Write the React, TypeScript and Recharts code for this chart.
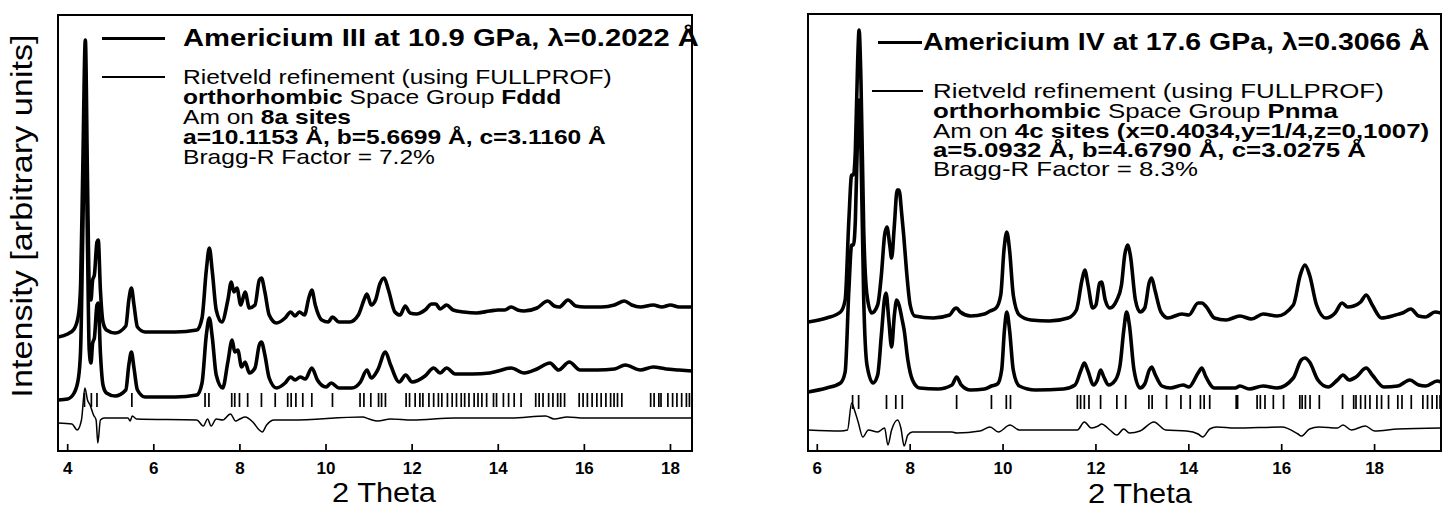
import React from 'react';
import { ComposedChart, Line, XAxis, YAxis, Scatter, ReferenceArea } from 'recharts';

// ---------- Left panel: Americium III (Fddd) ----------
const leftTicks = [4, 6, 8, 10, 12, 14, 16, 18];
const leftDomain: [number, number] = [3.775, 18.5];

const leftObs: [number, number][] = [
  [3.78, 114], [4.0, 117], [4.15, 122], [4.25, 136], [4.3, 166], [4.35, 281], [4.41, 411], [4.46, 271],
  [4.5, 166], [4.54, 151], [4.58, 171], [4.62, 176], [4.68, 209], [4.71, 211], [4.76, 161], [4.82, 129],
  [4.9, 121], [5.1, 118], [5.35, 125], [5.42, 151], [5.48, 163], [5.54, 146], [5.62, 124], [5.8, 119],
  [6.5, 119], [7.0, 121], [7.12, 133], [7.22, 181], [7.29, 203], [7.36, 179], [7.45, 141], [7.58, 129],
  [7.72, 151], [7.8, 169], [7.86, 159], [7.93, 163], [8.02, 146], [8.12, 159], [8.22, 143], [8.35, 146],
  [8.45, 171], [8.5, 173], [8.58, 159], [8.68, 136], [8.85, 128], [9.05, 133], [9.18, 139], [9.28, 135],
  [9.38, 139], [9.5, 136], [9.6, 153], [9.67, 161], [9.75, 146], [9.9, 131], [10.05, 129], [10.15, 134],
  [10.3, 129], [10.55, 129], [10.75, 136], [10.9, 153], [10.95, 157], [11.05, 146], [11.15, 151], [11.25, 167],
  [11.35, 173], [11.45, 161], [11.6, 139], [11.72, 136], [11.84, 145], [11.95, 138], [12.1, 137], [12.3, 141],
  [12.45, 147], [12.55, 147], [12.65, 142], [12.8, 146], [12.95, 141], [13.2, 139], [13.5, 138], [13.8, 140],
  [14.0, 141], [14.15, 141], [14.3, 144], [14.45, 141], [14.6, 140], [14.9, 143], [15.15, 150], [15.3, 145],
  [15.42, 144], [15.62, 151], [15.8, 145], [16.0, 144], [16.4, 144], [16.7, 146], [16.93, 150], [17.1, 146],
  [17.3, 144], [17.6, 146], [17.8, 144], [18.0, 146], [18.2, 144], [18.5, 144],
];

const leftCalc: [number, number][] = [
  [3.78, 51], [4.0, 52], [4.15, 58], [4.25, 73], [4.3, 101], [4.35, 216], [4.41, 346], [4.46, 206],
  [4.5, 101], [4.54, 88], [4.58, 108], [4.62, 113], [4.68, 146], [4.71, 148], [4.76, 98], [4.82, 66],
  [4.9, 58], [5.1, 55], [5.35, 61], [5.42, 86], [5.48, 99], [5.54, 83], [5.62, 61], [5.8, 54],
  [6.5, 54], [7.0, 56], [7.12, 68], [7.22, 116], [7.29, 133], [7.36, 113], [7.45, 76], [7.6, 63],
  [7.72, 89], [7.82, 111], [7.88, 99], [7.95, 101], [8.04, 84], [8.12, 89], [8.22, 78], [8.35, 83],
  [8.45, 106], [8.5, 109], [8.58, 96], [8.68, 73], [8.85, 63], [9.05, 68], [9.18, 74], [9.28, 71],
  [9.4, 74], [9.52, 72], [9.67, 83], [9.8, 71], [10.0, 64], [10.12, 68], [10.3, 63], [10.6, 63],
  [10.8, 69], [10.95, 81], [11.05, 73], [11.2, 81], [11.38, 99], [11.5, 86], [11.7, 69], [11.85, 76],
  [12.0, 69], [12.3, 75], [12.5, 83], [12.65, 78], [12.8, 83], [13.0, 77], [13.4, 77], [13.8, 78],
  [14.0, 80], [14.3, 83], [14.6, 78], [14.9, 82], [15.2, 88], [15.4, 81], [15.65, 89], [15.9, 81],
  [16.3, 81], [16.7, 82], [16.95, 86], [17.3, 81], [17.6, 84], [17.9, 82], [18.2, 81], [18.5, 80],
];

const leftDiff: [number, number][] = [
  [3.78, 28], [4.1, 27], [4.22, 21], [4.32, 31], [4.4, 63], [4.46, 51], [4.52, 46], [4.6, 36],
  [4.66, 31], [4.7, 8], [4.76, 31], [4.85, 33], [5.4, 33], [5.45, 30], [5.5, 35], [5.6, 32],
  [7.0, 31], [7.15, 25], [7.25, 32], [7.33, 25], [7.45, 32], [7.6, 31], [7.78, 37], [7.9, 30],
  [8.0, 32], [8.12, 34], [8.3, 29], [8.45, 21], [8.52, 19], [8.62, 26], [8.8, 31], [9.2, 31],
  [10.85, 34], [11.0, 32], [11.2, 30], [11.5, 32], [12.0, 31], [13.0, 33], [14.3, 33], [15.1, 35],
  [15.3, 32], [15.6, 34], [16.0, 33], [17.0, 33], [18.5, 33],
];

const leftBragg: number[] = [
  4.39, 4.55, 4.68, 5.49, 7.19, 7.28, 7.81, 7.88, 7.99, 8.18, 8.5, 8.82, 9.11, 9.19, 9.3, 9.46, 9.67,
  10.15, 10.79, 10.88, 11.04, 11.22, 11.29, 11.38, 11.86, 11.94, 12.07, 12.18, 12.25, 12.39, 12.5, 12.61,
  12.69, 12.82, 12.93, 13.03, 13.14, 13.22, 13.32, 13.44, 13.53, 13.62, 13.73, 13.89, 13.96, 14.12, 14.24,
  14.37, 14.53, 14.87, 14.95, 15.04, 15.17, 15.27, 15.38, 15.45, 15.54, 15.88, 15.97, 16.07, 16.18, 16.29,
  16.39, 16.5, 16.61, 16.69, 16.77, 16.87, 17.54, 17.62, 17.73, 17.78, 17.94, 18.05, 18.15, 18.26, 18.37,
  18.44,
];

// ---------- Right panel: Americium IV (Pnma) ----------
const rightTicks = [6, 8, 10, 12, 14, 16, 18];
const rightDomain: [number, number] = [5.8, 19.43];

const rightObs: [number, number][] = [
  [5.8, 129], [6.2, 133], [6.5, 139], [6.6, 151], [6.68, 231], [6.74, 276], [6.78, 276], [6.82, 301],
  [6.87, 391], [6.9, 421], [6.94, 371], [7.0, 221], [7.07, 156], [7.17, 138], [7.3, 146], [7.38, 176],
  [7.45, 216], [7.5, 224], [7.56, 206], [7.6, 193], [7.66, 226], [7.72, 261], [7.76, 261], [7.82, 236],
  [7.86, 216], [7.92, 181], [8.0, 146], [8.1, 135], [8.5, 133], [8.85, 136], [8.95, 142], [9.0, 143],
  [9.08, 139], [9.3, 135], [9.6, 137], [9.72, 140], [9.85, 143], [9.95, 156], [10.02, 201], [10.08, 219],
  [10.14, 201], [10.22, 156], [10.35, 136], [10.6, 131], [11.0, 130], [11.4, 133], [11.58, 141], [11.7, 171],
  [11.76, 181], [11.83, 166], [11.93, 143], [12.0, 146], [12.08, 168], [12.12, 169], [12.2, 151], [12.3, 143],
  [12.45, 151], [12.55, 166], [12.62, 196], [12.68, 206], [12.74, 196], [12.85, 151], [12.95, 139], [13.05, 143],
  [13.15, 169], [13.2, 173], [13.27, 161], [13.4, 139], [13.55, 133], [13.85, 137], [14.0, 136], [14.2, 148],
  [14.28, 148], [14.38, 144], [14.55, 133], [14.8, 131], [15.1, 135], [15.35, 132], [15.6, 137], [15.9, 135],
  [16.25, 146], [16.4, 176], [16.5, 186], [16.6, 176], [16.75, 146], [16.95, 133], [17.15, 138], [17.3, 148],
  [17.42, 144], [17.55, 145], [17.7, 149], [17.82, 156], [17.95, 146], [18.15, 133], [18.45, 136], [18.6, 138],
  [18.78, 142], [18.95, 135], [19.1, 134], [19.3, 139], [19.43, 138],
];

const rightCalc: [number, number][] = [
  [5.8, 59], [6.2, 63], [6.5, 68], [6.6, 79], [6.68, 161], [6.74, 206], [6.78, 206], [6.82, 231],
  [6.87, 321], [6.9, 351], [6.94, 301], [7.0, 151], [7.07, 86], [7.2, 68], [7.3, 76], [7.38, 116],
  [7.45, 153], [7.48, 158], [7.54, 131], [7.6, 104], [7.66, 136], [7.71, 151], [7.76, 146], [7.82, 133],
  [7.87, 121], [7.95, 91], [8.05, 71], [8.2, 63], [8.6, 62], [8.9, 66], [9.0, 74], [9.1, 66],
  [9.3, 61], [9.6, 62], [9.75, 65], [9.88, 67], [9.97, 81], [10.03, 121], [10.08, 139], [10.14, 121],
  [10.22, 81], [10.35, 65], [10.7, 61], [11.3, 62], [11.55, 66], [11.68, 81], [11.75, 88], [11.82, 81],
  [11.95, 66], [12.03, 71], [12.1, 81], [12.17, 74], [12.27, 66], [12.42, 71], [12.52, 86], [12.6, 121],
  [12.66, 139], [12.72, 126], [12.82, 81], [12.95, 63], [13.05, 67], [13.15, 81], [13.2, 84], [13.28, 76],
  [13.42, 65], [13.6, 63], [13.88, 66], [14.0, 64], [14.2, 78], [14.28, 83], [14.36, 75], [14.55, 63],
  [15.0, 63], [15.1, 65], [15.3, 62], [15.6, 65], [15.9, 63], [16.25, 73], [16.42, 91], [16.5, 93],
  [16.6, 89], [16.78, 71], [17.0, 64], [17.2, 71], [17.32, 76], [17.45, 71], [17.6, 74], [17.82, 83],
  [17.95, 76], [18.2, 64], [18.5, 65], [18.76, 71], [18.95, 66], [19.1, 65], [19.35, 70], [19.43, 69],
];

const rightDiff: [number, number][] = [
  [5.8, 21], [6.5, 20], [6.65, 21], [6.74, 48], [6.8, 41], [6.88, 29], [6.98, 14], [7.1, 21],
  [7.3, 19], [7.45, 23], [7.52, 6], [7.6, 21], [7.73, 31], [7.8, 23], [7.87, 5], [7.95, 16],
  [8.05, 19], [8.9, 19], [9.0, 18], [9.5, 20], [9.72, 24], [9.9, 19], [10.15, 26], [10.35, 21],
  [11.6, 21], [11.75, 29], [11.9, 23], [12.05, 25], [12.12, 27], [12.3, 21], [12.45, 16], [12.6, 22],
  [12.72, 18], [12.95, 20], [13.25, 29], [13.5, 21], [13.95, 20], [14.2, 17], [14.3, 14], [14.45, 22],
  [14.6, 24], [15.0, 23], [16.0, 24], [16.35, 17], [16.42, 15], [16.6, 22], [16.8, 24], [17.2, 23],
  [17.32, 26], [17.5, 21], [17.8, 25], [18.0, 20], [18.5, 22], [19.43, 23],
];

const rightBragg: number[] = [
  6.76, 6.89, 7.49, 7.69, 7.83, 9.0, 9.75, 10.07, 10.16, 11.6, 11.67, 11.75, 11.85, 12.1, 12.45, 12.64,
  13.14, 13.21, 13.52, 13.83, 14.03, 14.25, 14.33, 14.45, 15.02, 15.05, 15.47, 15.54, 15.64, 15.82, 16.04,
  16.39, 16.44, 16.51, 16.61, 16.81, 17.31, 17.55, 17.6, 17.7, 17.8, 17.9, 18.05, 18.15, 18.3, 18.5, 18.59,
  18.79, 19.04, 19.14, 19.24, 19.34, 19.41,
];

// ---------- Legend texts ----------
type Seg = [string, boolean];
const leftTitle = 'Americium III at 10.9 GPa, \u03bb=0.2022 \u00c5';
const leftRows: Seg[][] = [
  [['Rietveld refinement (using FULLPROF)', false]],
  [['orthorhombic', true], [' Space Group ', false], ['Fddd', true]],
  [['Am on ', false], ['8a sites', true]],
  [['a=10.1153 \u00c5, b=5.6699 \u00c5, c=3.1160 \u00c5', true]],
  [['Bragg-R Factor = 7.2%', false]],
];
const rightTitle = 'Americium IV at 17.6 GPa, \u03bb=0.3066 \u00c5';
const rightRows: Seg[][] = [
  [['Rietveld refinement (using FULLPROF)', false]],
  [['orthorhombic', true], [' Space Group ', false], ['Pnma', true]],
  [['Am on ', false], ['4c sites (x=0.4034,y=1/4,z=0,1007)', true]],
  [['a=5.0932 \u00c5, b=4.6790 \u00c5, c=3.0275 \u00c5', true]],
  [['Bragg-R Factor = 8.3%', false]],
];

const FONT = '"Liberation Sans", Arial, Helvetica, sans-serif';

const pts = (arr: [number, number][]) => arr.map(([x, y]) => ({ x, y }));

const BraggTick = (props: any) => {
  const { cx, cy } = props;
  if (cx == null || cy == null) return null;
  return <line x1={cx} x2={cx} y1={cy - 7} y2={cy + 7} stroke="#000" strokeWidth={1.7} />;
};

interface PanelProps {
  width: number;
  margin: { top: number; right: number; bottom: number; left: number };
  domain: [number, number];
  yMax: number;
  ticks: number[];
  obs: [number, number][];
  calc: [number, number][];
  diff: [number, number][];
  bragg: number[];
  braggLevel: number;
}

function Panel(p: PanelProps) {
  const braggData = p.bragg.map((x) => ({ x, y: p.braggLevel }));
  return (
    <ComposedChart width={p.width} height={508} margin={p.margin}>
      <XAxis
        type="number"
        dataKey="x"
        domain={p.domain}
        ticks={p.ticks}
        interval={0}
        allowDataOverflow
        height={45}
        tickSize={-7}
        tickMargin={18}
        axisLine={{ stroke: '#000', strokeWidth: 2 }}
        tickLine={{ stroke: '#000', strokeWidth: 1.7 }}
        tick={{ fill: '#000', fontSize: 17, fontWeight: 700, fontFamily: FONT }}
      />
      <YAxis type="number" dataKey="y" domain={[0, p.yMax]} hide allowDataOverflow />
      <ReferenceArea x1={p.domain[0]} x2={p.domain[1]} y1={0} y2={p.yMax} fill="none" stroke="#000" strokeWidth={2} />
      <Line data={pts(p.obs)} dataKey="y" type="monotone" stroke="#000" strokeWidth={3.6} dot={false} isAnimationActive={false} />
      <Line data={pts(p.calc)} dataKey="y" type="monotone" stroke="#000" strokeWidth={3.6} dot={false} isAnimationActive={false} />
      <Line data={pts(p.diff)} dataKey="y" type="monotone" stroke="#000" strokeWidth={1.5} dot={false} isAnimationActive={false} />
      <Scatter data={braggData} dataKey="y" shape={<BraggTick />} isAnimationActive={false} />
    </ComposedChart>
  );
}

function Legend(props: {
  lineLeft1: number; lineW1: number; lineLeft2: number; lineW2: number;
  textLeft1: number; textLeft2: number; titleY: number; rowYs: number[];
  title: string; rows: Seg[][]; titleScale: number; bodyScale: number;
}) {
  const titleFs = 23.5;
  const titleLh = 22;
  const bodyFs = 21;
  const bodyLh = 18;
  return (
    <>
      <div style={{ position: 'absolute', left: props.lineLeft1, top: props.titleY - 1.5, width: props.lineW1, height: 3, background: '#000' }} />
      <div style={{ position: 'absolute', left: props.lineLeft2, top: props.rowYs[0] - 1, width: props.lineW2, height: 2, background: '#000' }} />
      <div style={{ position: 'absolute', left: props.textLeft1, top: props.titleY - titleLh / 2, fontSize: titleFs, lineHeight: `${titleLh}px`, fontWeight: 700, whiteSpace: 'nowrap', fontFamily: FONT, transform: `scaleX(${props.titleScale})`, transformOrigin: 'left center' }}>
        {props.title}
      </div>
      {props.rows.map((row, i) => (
        <div key={i} style={{ position: 'absolute', left: props.textLeft2, top: props.rowYs[i] - bodyLh / 2, fontSize: bodyFs, lineHeight: `${bodyLh}px`, whiteSpace: 'nowrap', fontFamily: FONT, transform: `scaleX(${props.bodyScale})`, transformOrigin: 'left center' }}>
          {row.map(([t, b], j) => (
            <span key={j} style={{ fontWeight: b ? 700 : 400 }}>{t}</span>
          ))}
        </div>
      ))}
    </>
  );
}

export default function App() {
  return (
    <div style={{ position: 'absolute', left: 0, top: 0, width: 1444, height: 508, background: '#fff', overflow: 'hidden', fontFamily: FONT }}>
      <div style={{ position: 'absolute', left: 0, top: 0 }}>
        <Panel
          width={720}
          margin={{ top: 15, right: 28, bottom: 12, left: 58 }}
          domain={leftDomain}
          yMax={436}
          ticks={leftTicks}
          obs={leftObs}
          calc={leftCalc}
          diff={leftDiff}
          bragg={leftBragg}
          braggLevel={51}
        />
      </div>
      <div style={{ position: 'absolute', left: 720, top: 0 }}>
        <Panel
          width={724}
          margin={{ top: 14, right: 3, bottom: 12, left: 88 }}
          domain={rightDomain}
          yMax={437}
          ticks={rightTicks}
          obs={rightObs}
          calc={rightCalc}
          diff={rightDiff}
          bragg={rightBragg}
          braggLevel={49}
        />
      </div>

      <Legend lineLeft1={102} lineW1={63} lineLeft2={102} lineW2={63} textLeft1={183} textLeft2={183}
        titleY={38} rowYs={[77, 97, 117, 137, 157]} title={leftTitle} rows={leftRows}
        titleScale={1.24} bodyScale={1.17} />
      <Legend lineLeft1={878} lineW1={44} lineLeft2={872} lineW2={51} textLeft1={923} textLeft2={933}
        titleY={42} rowYs={[91, 111, 131, 150, 169]} title={rightTitle} rows={rightRows}
        titleScale={1.21} bodyScale={1.23} />

      <div style={{ position: 'absolute', left: 22, top: 216, transform: 'translate(-50%, -50%) rotate(-90deg) scaleX(1.18)', whiteSpace: 'nowrap', fontSize: 29, lineHeight: '30px', fontFamily: FONT }}>
        Intensity [arbitrary units]
      </div>
      <div style={{ position: 'absolute', left: 384, top: 480, transform: 'translateX(-50%) scaleX(1.1)', whiteSpace: 'nowrap', fontSize: 28, lineHeight: '26px', fontFamily: FONT }}>
        2 Theta
      </div>
      <div style={{ position: 'absolute', left: 1140, top: 481, transform: 'translateX(-50%) scaleX(1.1)', whiteSpace: 'nowrap', fontSize: 28, lineHeight: '26px', fontFamily: FONT }}>
        2 Theta
      </div>
    </div>
  );
}
